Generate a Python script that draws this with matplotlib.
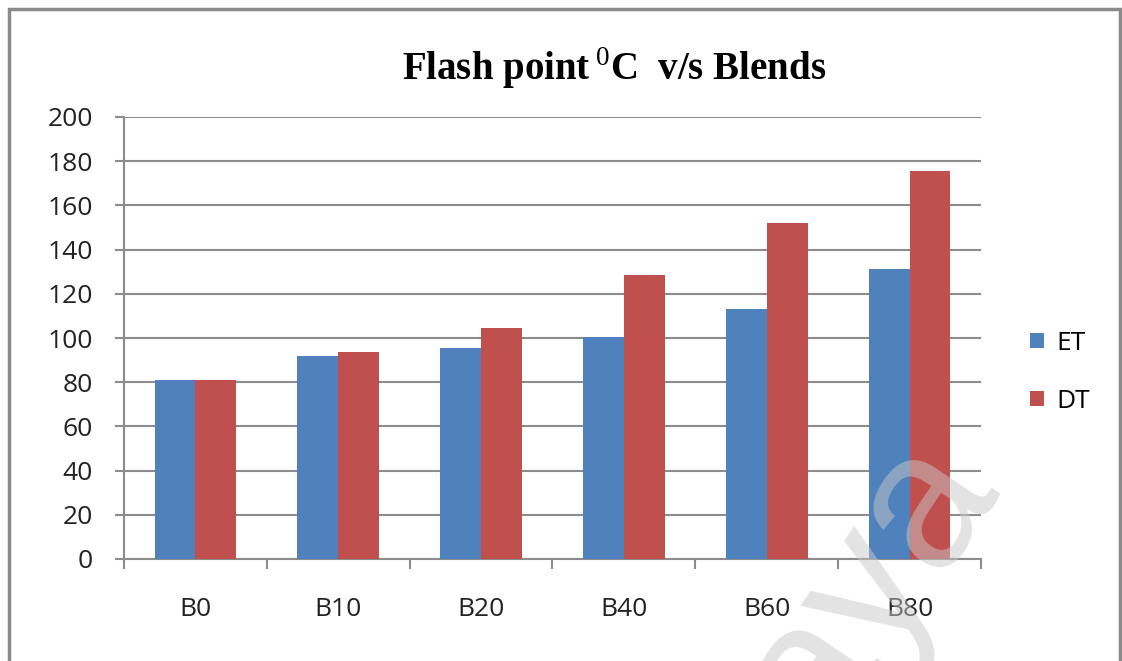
import numpy as np
import matplotlib
matplotlib.use("Agg")
import matplotlib.pyplot as plt
from matplotlib.patches import Rectangle

blends = ["B0", "B10", "B20", "B40", "B60", "B80"]
et = [81, 92, 95.5, 100.5, 113, 131]
dt = [81, 93.5, 104.5, 128.5, 152, 175.5]
yticks = [0, 20, 40, 60, 80, 100, 120, 140, 160, 180, 200]

plt.rcParams['mathtext.fontset'] = 'custom'
plt.rcParams['mathtext.rm'] = 'Liberation Serif'
plt.rcParams['mathtext.bf'] = 'Liberation Serif:bold'

fig = plt.figure(figsize=(11.22, 6.61), dpi=100)
ax = fig.add_axes([124/1122, 1-559/661, (981-124)/1122, (559-117)/661])

x = np.arange(len(blends))
w = 1/3.5
ax.bar(x - w/2, et, w, color='#4F81BD', label='ET', zorder=3)
ax.bar(x + w/2, dt, w, color='#C0504D', label='DT', zorder=3)

ax.set_xlim(-0.5, len(blends) - 0.5)
ax.set_ylim(0, 200)
ax.set_yticks(yticks)
ax.yaxis.grid(True, color='#8c8c8c', linewidth=1.5, zorder=0)
ax.set_axisbelow(True)
for s in ['top', 'right']:
    ax.spines[s].set_visible(False)
for s in ['left', 'bottom']:
    ax.spines[s].set_color('#8c8c8c')
    ax.spines[s].set_linewidth(1.5)

ax.set_xticks(x)
ax.set_xticklabels(blends)
ax.set_xticks(np.arange(-0.5, len(blends)), minor=True)
ax.tick_params(axis='x', which='major', length=0, pad=27, labelsize=19, labelcolor='#222222')
ax.tick_params(axis='x', which='minor', length=7, color='#8c8c8c', width=1.5)
ax.tick_params(axis='y', length=6.5, color='#8c8c8c', width=1.5, pad=16, labelsize=19, labelcolor='#222222')
for lab in ax.get_xticklabels() + ax.get_yticklabels():
    lab.set_family('Open Sans')

fig.text(0.547, 1-68/661, r"Flash point$\,^{0}$C  v/s Blends", ha='center', va='center',
         fontsize=28, fontweight='bold', family='Liberation Serif')

leg = ax.legend(loc='center left', bbox_to_anchor=(1.03, 0.422), frameon=False,
                prop={'family': 'Open Sans', 'size': 19}, handlelength=0.5, handleheight=0.5,
                labelspacing=1.25, handletextpad=0.5)

# outer chart border
fig.patches.append(Rectangle((9/1122, -0.02), (1120-9)/1122, 1.02 - 9/661, transform=fig.transFigure,
                             fill=False, edgecolor='#8a8a8a', linewidth=2.5))

# watermark
fig.text(0.762, 0.09, "laya", rotation=56, ha='center', va='center', fontsize=140,
         color='#c8c8c8', alpha=0.5, family='Liberation Sans', zorder=10)

fig.savefig('out.png', dpi=100)
